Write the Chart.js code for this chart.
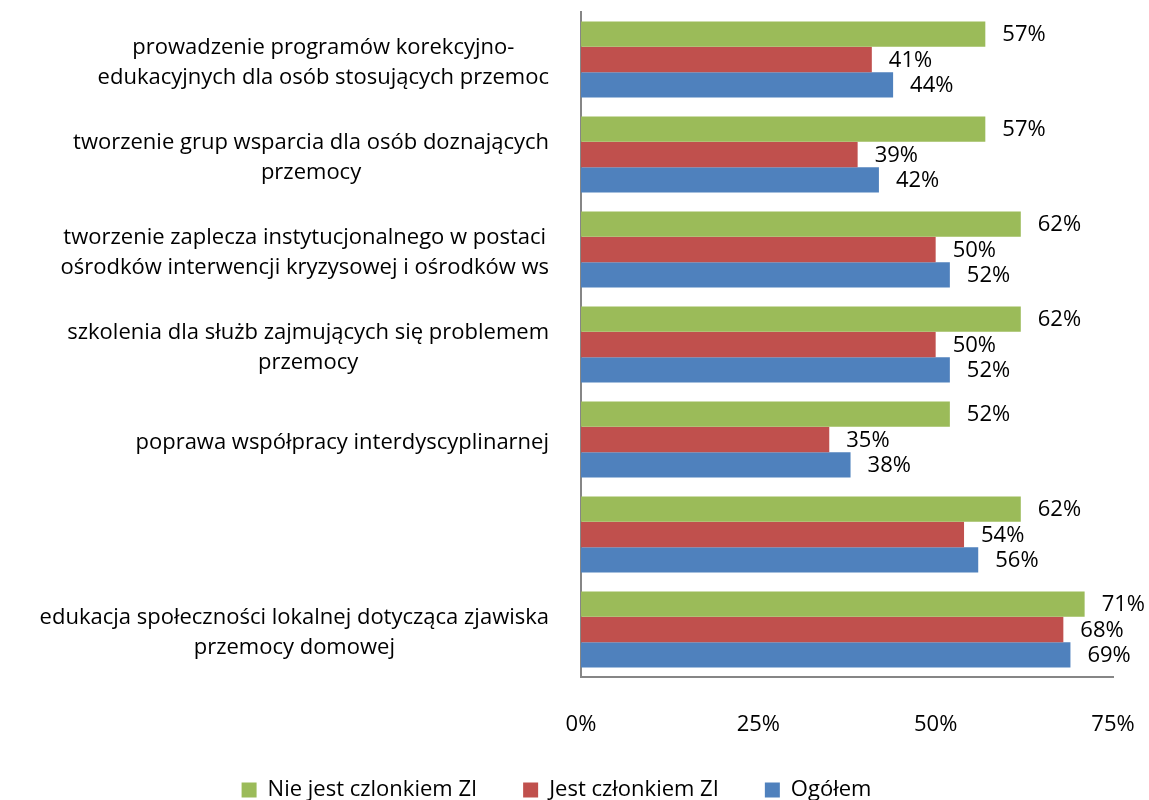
<!DOCTYPE html>
<html>
<head>
<meta charset="utf-8">
<script src="https://cdn.jsdelivr.net/npm/chart.js@4.4.1/dist/chart.umd.min.js"></script>
<style>
    html, body { margin: 0; padding: 0; background: #fff; overflow: hidden; }
    #wrap { width: 1149px; height: 800px; }
</style>
</head>
<body>
<div id="wrap"><canvas id="chart"></canvas></div>
<script>
// Categories (top to bottom), each split into lines as in the original
const categories = [
    ['prowadzenie programów korekcyjno-', 'edukacyjnych dla osób stosujących przemoc'],
    ['tworzenie grup wsparcia dla osób doznających', 'przemocy'],
    ['tworzenie zaplecza instytucjonalnego w postaci', 'ośrodków interwencji kryzysowej i ośrodków ws'],
    ['szkolenia dla służb zajmujących się problemem', 'przemocy'],
    ['poprawa współpracy interdyscyplinarnej'],
    [''],
    ['edukacja społeczności lokalnej dotycząca zjawiska', 'przemocy domowej']
];

const seriesNames = ['Nie jest czlonkiem ZI', 'Jest członkiem ZI', 'Ogółem'];
const notMember = [57, 57, 62, 62, 52, 62, 71];
const member = [41, 39, 50, 50, 35, 54, 68];
const overall = [44, 42, 52, 52, 38, 56, 69];

const xTicks = [0, 25, 50, 75];

const FONT = '"Open Sans", Lato, sans-serif';
const FONT_SIZE = 22;
const LINE_H = 30;

// Category labels: lines centered on each other, block right-aligned to the axis
const categoryLabels = {
    id: 'categoryLabels',
    afterDraw(chart) {
        const ctx = chart.ctx;
        const yScale = chart.scales.y;
        const right = chart.chartArea.left - 32;
        ctx.save();
        ctx.font = FONT_SIZE + 'px ' + FONT;
        ctx.fillStyle = '#000';
        ctx.textAlign = 'center';
        ctx.textBaseline = 'middle';
        categories.forEach((lines, i) => {
            const w = Math.max(...lines.map(l => ctx.measureText(l).width));
            const cx = right - w / 2;
            const cy = yScale.getPixelForTick(i) + 3;
            lines.forEach((line, k) => {
                ctx.fillText(line, cx, cy + (k - (lines.length - 1) / 2) * LINE_H);
            });
        });
        ctx.restore();
    }
};

// Value labels at the end of each bar
const valueLabels = {
    id: 'valueLabels',
    afterDatasetsDraw(chart) {
        const ctx = chart.ctx;
        ctx.save();
        ctx.font = FONT_SIZE + 'px ' + FONT;
        ctx.fillStyle = '#000';
        ctx.textAlign = 'left';
        ctx.textBaseline = 'middle';
        chart.data.datasets.forEach((ds, di) => {
            chart.getDatasetMeta(di).data.forEach((bar, i) => {
                ctx.fillText(ds.data[i] + '%', bar.x + 17, bar.y + 1);
            });
        });
        ctx.restore();
    }
};

new Chart(document.getElementById('chart'), {
    type: 'bar',
    data: {
        labels: categories,
        datasets: [
            { label: seriesNames[0], data: notMember, backgroundColor: '#9BBB59' },
            { label: seriesNames[1], data: member, backgroundColor: '#C0504D' },
            { label: seriesNames[2], data: overall, backgroundColor: '#4F81BD' }
        ]
    },
    options: {
        indexAxis: 'y',
        responsive: true,
        maintainAspectRatio: false,
        animation: false,
        layout: { padding: { top: 12, right: 36, bottom: -11, left: 0 } },
        datasets: {
            bar: { categoryPercentage: 0.8, barPercentage: 1.0 }
        },
        scales: {
            y: {
                grid: { display: false },
                border: { display: true, color: '#868686', width: 2 },
                ticks: { display: false },
                afterFit: s => { s.width = 581; }
            },
            x: {
                min: 0,
                max: 75,
                grid: { display: false },
                border: { display: true, color: '#868686', width: 2 },
                afterBuildTicks: s => { s.ticks = xTicks.map(v => ({ value: v })); },
                ticks: {
                    color: '#000',
                    padding: 0,
                    // tall line box pushes the labels down without widening the side padding
                    font: { family: FONT, size: FONT_SIZE, lineHeight: 3.6 },
                    callback: v => v + '%'
                },
                afterFit: s => { s.height = 56; }
            }
        },
        plugins: {
            legend: {
                position: 'bottom',
                labels: {
                    color: '#000',
                    boxWidth: 15,
                    boxHeight: 15,
                    padding: 46,
                    font: { family: FONT, size: FONT_SIZE }
                }
            },
            tooltip: { enabled: false }
        }
    },
    plugins: [categoryLabels, valueLabels]
});
</script>
</body>
</html>
